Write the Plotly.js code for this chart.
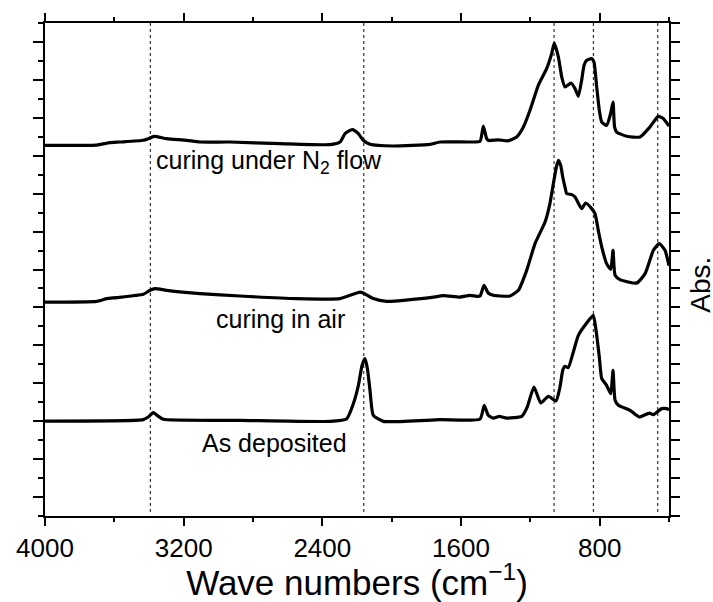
<!DOCTYPE html>
<html>
<head>
<meta charset="utf-8">
<script src="https://cdn.plot.ly/plotly-3.0.1.min.js"></script>
<style>html,body{margin:0;padding:0;background:#fff;}#chart{width:713px;height:602px;}</style>
</head>
<body>
<div id="chart"></div>
<script>
// ---- data ----
const wnN2 = [4000, 3850, 3702, 3625, 3567, 3433, 3404, 3371, 3298, 3183, 3106, 2933, 2644, 2356, 2298, 2269, 2227, 2192, 2164, 2125, 1991, 1779, 1721, 1548, 1490, 1471, 1452, 1440, 1385, 1330, 1279, 1240, 1202, 1154, 1106, 1077, 1062, 1038, 1019, 1000, 965, 942, 923, 904, 890, 875, 846, 833, 817, 802, 788, 760, 737, 723, 714, 702, 644, 567, 510, 462, 433, 400];
const absN2 = [9.275, 9.275, 9.280, 9.346, 9.362, 9.407, 9.451, 9.512, 9.451, 9.407, 9.362, 9.362, 9.320, 9.293, 9.362, 9.583, 9.689, 9.583, 9.407, 9.301, 9.256, 9.301, 9.362, 9.362, 9.380, 9.784, 9.451, 9.400, 9.420, 9.390, 9.494, 9.757, 10.198, 10.857, 11.297, 11.693, 11.972, 11.600, 11.076, 10.812, 10.918, 10.770, 10.567, 10.989, 11.384, 11.516, 11.561, 11.472, 10.810, 10.198, 9.889, 9.800, 10.110, 10.417, 9.757, 9.625, 9.512, 9.494, 9.757, 10.039, 9.980, 9.780];

const wnAir = [4000, 3702, 3644, 3586, 3433, 3394, 3365, 3298, 3106, 2875, 2548, 2298, 2240, 2183, 2164, 2106, 2029, 1779, 1702, 1606, 1548, 1510, 1490, 1467, 1443, 1414, 1375, 1317, 1269, 1221, 1173, 1115, 1087, 1067, 1050, 1038, 1025, 1013, 1000, 990, 961, 942, 904, 881, 846, 827, 808, 788, 760, 736, 723, 711, 683, 586, 538, 490, 456, 423, 400];
const absAir = [5.142, 5.161, 5.232, 5.258, 5.345, 5.451, 5.496, 5.451, 5.364, 5.301, 5.232, 5.232, 5.319, 5.406, 5.380, 5.232, 5.161, 5.258, 5.311, 5.274, 5.319, 5.293, 5.301, 5.583, 5.380, 5.319, 5.301, 5.301, 5.451, 5.978, 6.682, 7.252, 7.737, 8.265, 8.700, 8.879, 8.747, 8.440, 8.175, 8.001, 7.974, 7.911, 7.605, 7.753, 7.605, 7.473, 7.033, 6.593, 6.155, 6.005, 6.506, 5.846, 5.733, 5.643, 5.891, 6.506, 6.682, 6.506, 6.100];

const wnDep = [4000, 3433, 3404, 3375, 3346, 3317, 2875, 2356, 2259, 2221, 2192, 2171, 2154, 2140, 2125, 2106, 2048, 1721, 1490, 1466, 1443, 1414, 1379, 1336, 1250, 1218, 1179, 1140, 1096, 1052, 1029, 1013, 1000, 981, 952, 923, 875, 837, 821, 802, 788, 760, 736, 723, 711, 692, 625, 571, 514, 490, 442, 413, 400];
const absDep = [2.004, 2.041, 2.110, 2.226, 2.128, 2.049, 2.023, 1.996, 2.067, 2.463, 2.946, 3.470, 3.650, 3.390, 2.814, 2.155, 1.996, 2.041, 2.059, 2.418, 2.155, 2.083, 2.128, 2.083, 2.128, 2.373, 2.901, 2.479, 2.656, 2.532, 2.901, 3.341, 3.447, 3.412, 3.824, 4.264, 4.589, 4.792, 4.396, 3.692, 3.122, 2.946, 2.727, 3.341, 2.550, 2.418, 2.286, 2.110, 2.215, 2.173, 2.331, 2.331, 2.300];

const guideLines = [3392, 2161, 1063, 836, 465];
const xTickVals = [4000, 3200, 2400, 1600, 800];
const xTickText = ["4000", "3200", "2400", "1600", "800"];
const labelText = ["curing under N<sub>2</sub> flow", "curing in air", "As deposited"];
const labelWn = [2708, 2644, 2675];
const labelAbs = [8.83, 4.70, 1.42];

// ---- chart ----
const lineStyle = {color: '#000', width: 3.2, shape: 'spline', smoothing: 0.5};
const traces = [
  {x: wnN2, y: absN2, type: 'scatter', mode: 'lines', line: lineStyle, hoverinfo: 'skip'},
  {x: wnAir, y: absAir, type: 'scatter', mode: 'lines', line: lineStyle, hoverinfo: 'skip'},
  {x: wnDep, y: absDep, type: 'scatter', mode: 'lines', line: lineStyle, hoverinfo: 'skip'},
  {x: [4000], y: [0], yaxis: 'y2', type: 'scatter', mode: 'none', hoverinfo: 'skip', showlegend: false}
];

const shapes = guideLines.map(v => ({
  type: 'line', xref: 'x', yref: 'paper', x0: v, x1: v, y0: 0.008, y1: 1,
  line: {color: '#333', width: 1.2, dash: '3px,3px'}, layer: 'below'
}));

const annotations = labelText.map((t, i) => ({
  x: labelWn[i], y: labelAbs[i], xref: 'x', yref: 'y', text: t, showarrow: false,
  font: {size: 25, color: '#000'}, xanchor: 'center', yanchor: 'middle'
}));
annotations.push({
  xref: 'paper', yref: 'paper', x: 1.0505, y: 0.468, text: 'Abs.', textangle: -90,
  showarrow: false, font: {size: 28, color: '#000'}, xanchor: 'center', yanchor: 'middle'
});

const axisCommon = {showgrid: false, zeroline: false, showline: true, linewidth: 2, linecolor: '#000', tickcolor: '#000', tickwidth: 2};

const layout = {
  width: 713, height: 602,
  margin: {l: 45, r: 44, t: 23, b: 86},
  paper_bgcolor: '#fff', plot_bgcolor: '#fff',
  font: {family: 'Arial, "Liberation Sans", sans-serif', color: '#000'},
  showlegend: false,
  xaxis: Object.assign({}, axisCommon, {
    range: [4000, 400], tickmode: 'array', tickvals: xTickVals, ticktext: xTickText,
    ticks: 'outside', ticklen: 8, mirror: 'ticks', tickfont: {size: 26},
    minor: {tickmode: 'linear', tick0: 0, dtick: 400, ticks: 'outside', ticklen: 4, tickwidth: 2, tickcolor: '#000', showgrid: false},
    title: {text: 'Wave numbers (cm<sup>−1</sup>)', font: {size: 35}, standoff: 10}
  }),
  yaxis: Object.assign({}, axisCommon, {
    range: [-0.5, 12.5], tickmode: 'linear', tick0: 0, dtick: 1, ticks: 'outside', ticklen: 10,
    showticklabels: false, mirror: false,
    minor: {tickmode: 'linear', tick0: 0, dtick: 0.5, ticks: 'outside', ticklen: 5, tickwidth: 2, tickcolor: '#000', showgrid: false}
  }),
  yaxis2: Object.assign({}, axisCommon, {
    overlaying: 'y', side: 'right', range: [-0.5, 12.5], tickmode: 'linear', tick0: 0, dtick: 0.5,
    ticks: 'outside', ticklen: 9, showticklabels: false
  }),
  shapes: shapes,
  annotations: annotations
};

Plotly.newPlot('chart', traces, layout, {staticPlot: true, displayModeBar: false});
</script>
</body>
</html>
